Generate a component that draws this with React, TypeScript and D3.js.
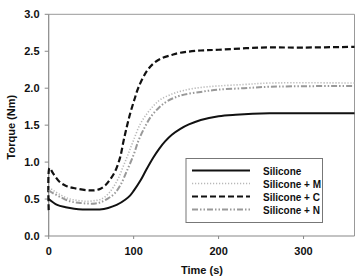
import React from "react";
import * as d3 from "d3";

// Cure curves: time (s) vs torque (Nm)
const siliconeT = [0, 10, 20, 30, 40, 50, 60, 70, 80, 90, 96, 100, 108, 115, 123, 130, 137, 145, 155, 165, 179, 200, 220, 260, 300, 360];
const siliconeV = [0.5, 0.42, 0.39, 0.37, 0.36, 0.36, 0.36, 0.38, 0.42, 0.49, 0.55, 0.61, 0.75, 0.9, 1.06, 1.18, 1.28, 1.37, 1.45, 1.51, 1.57, 1.62, 1.64, 1.66, 1.66, 1.66];

const mT = [0, 5, 15, 25, 35, 45, 55, 62, 70, 76, 82, 88, 94, 100, 108, 116, 124, 132, 145, 159, 179, 199, 230, 260, 360];
const mV = [0.66, 0.62, 0.55, 0.5, 0.48, 0.47, 0.48, 0.5, 0.57, 0.66, 0.78, 0.95, 1.12, 1.3, 1.52, 1.66, 1.77, 1.85, 1.92, 1.97, 2.01, 2.03, 2.05, 2.07, 2.07];

const cT = [0, 1, 5, 13, 20, 29, 45, 55, 61, 67, 72, 78, 84, 88, 92, 96, 101, 106, 116, 124, 132, 145, 155, 179, 200, 250, 300, 360];
const cV = [0.35, 0.92, 0.85, 0.73, 0.68, 0.65, 0.62, 0.62, 0.64, 0.69, 0.76, 0.87, 1.06, 1.28, 1.48, 1.66, 1.85, 2.02, 2.24, 2.34, 2.4, 2.45, 2.48, 2.51, 2.52, 2.55, 2.55, 2.56];

const nT = [0, 5, 15, 25, 35, 45, 55, 62, 70, 78, 85, 92, 100, 106, 113, 120, 130, 139, 155, 179, 199, 230, 260, 360];
const nV = [0.62, 0.58, 0.52, 0.47, 0.45, 0.44, 0.44, 0.46, 0.51, 0.58, 0.7, 0.88, 1.1, 1.3, 1.47, 1.61, 1.74, 1.82, 1.9, 1.95, 1.98, 2.0, 2.02, 2.03];

const seriesNames = ["Silicone", "Silicone + M", "Silicone + C", "Silicone + N"];
const xTicks = [0, 100, 200, 300];
const yTicks = [0, 0.5, 1, 1.5, 2, 2.5, 3];

const styles = [
  { stroke: "#111", width: 2, dash: "" },
  { stroke: "#b8b8b8", width: 1.6, dash: "1.2,1.8" },
  { stroke: "#111", width: 2.2, dash: "6,3" },
  { stroke: "#999", width: 2, dash: "6,2,1.5,2,1.5,2" },
];

export default function App() {
  const W = 356, H = 276;
  const left = 48.7, right = 354.5, top = 14.3, bottom = 236;
  const x = d3.scaleLinear().domain([0, 360]).range([left, right]);
  const y = d3.scaleLinear().domain([0, 3]).range([bottom, top]);
  const line = d3.line<[number, number]>()
    .x(d => x(d[0]))
    .y(d => y(d[1]))
    .curve(d3.curveCatmullRom.alpha(0.5));

  const data: [number, number][][] = [
    siliconeT.map((t, i) => [t, siliconeV[i]]),
    mT.map((t, i) => [t, mV[i]]),
    cT.map((t, i) => [t, cV[i]]),
    nT.map((t, i) => [t, nV[i]]),
  ];

  const font = "'Liberation Sans', Arial, sans-serif";
  const legendRows = [171, 184, 197, 210];

  return (
    <svg width={W} height={H} style={{ position: "absolute", left: 0, top: 0 }} fontFamily={font}>
      <rect width={W} height={H} fill="#fff" />
      {/* frame */}
      <line x1={left} x2={right} y1={top} y2={top} stroke="#999" strokeWidth={1} />
      <line x1={right} x2={right} y1={top} y2={bottom} stroke="#999" strokeWidth={1} />
      <line x1={left} x2={left} y1={top} y2={bottom} stroke="#888" strokeWidth={1.2} />
      <line x1={left} x2={right} y1={bottom} y2={bottom} stroke="#888" strokeWidth={1.2} />
      {yTicks.map(v => (
        <g key={v}>
          <line x1={left - 4} x2={left} y1={y(v)} y2={y(v)} stroke="#888" />
          <text x={39.5} y={y(v) + 4} textAnchor="end" fontSize={11} fontWeight="bold" fill="#111">
            {v.toFixed(1)}
          </text>
        </g>
      ))}
      {xTicks.map(t => (
        <g key={t}>
          <line x1={x(t)} x2={x(t)} y1={bottom} y2={bottom + 3} stroke="#888" />
          <text x={x(t)} y={bottom + 19} textAnchor="middle" fontSize={11} fontWeight="bold" fill="#111">
            {t}
          </text>
        </g>
      ))}
      <text x={202} y={273.5} textAnchor="middle" fontSize={11} fontWeight="bold" fill="#111">
        Time (s)
      </text>
      <text
        transform={`translate(14.5,${(top + bottom) / 2 + 2}) rotate(-90)`}
        textAnchor="middle"
        fontSize={11}
        fontWeight="bold"
        fill="#111"
      >
        Torque (Nm)
      </text>
      {data.map((d, i) => (
        <path
          key={i}
          d={line(d) || ""}
          fill="none"
          stroke={styles[i].stroke}
          strokeWidth={styles[i].width}
          strokeDasharray={styles[i].dash}
        />
      ))}
      {/* legend */}
      <rect x={186} y={158.5} width={136.5} height={64} fill="#fff" stroke="#777" strokeWidth={1} />
      {seriesNames.map((name, i) => (
        <g key={name}>
          <line
            x1={192}
            x2={250}
            y1={legendRows[i] - 0.5}
            y2={legendRows[i] - 0.5}
            stroke={styles[i].stroke}
            strokeWidth={styles[i].width}
            strokeDasharray={styles[i].dash}
          />
          <text x={263} y={legendRows[i] + 3.5} fontSize={10} fontWeight="bold" fill="#111">
            {name}
          </text>
        </g>
      ))}
    </svg>
  );
}
